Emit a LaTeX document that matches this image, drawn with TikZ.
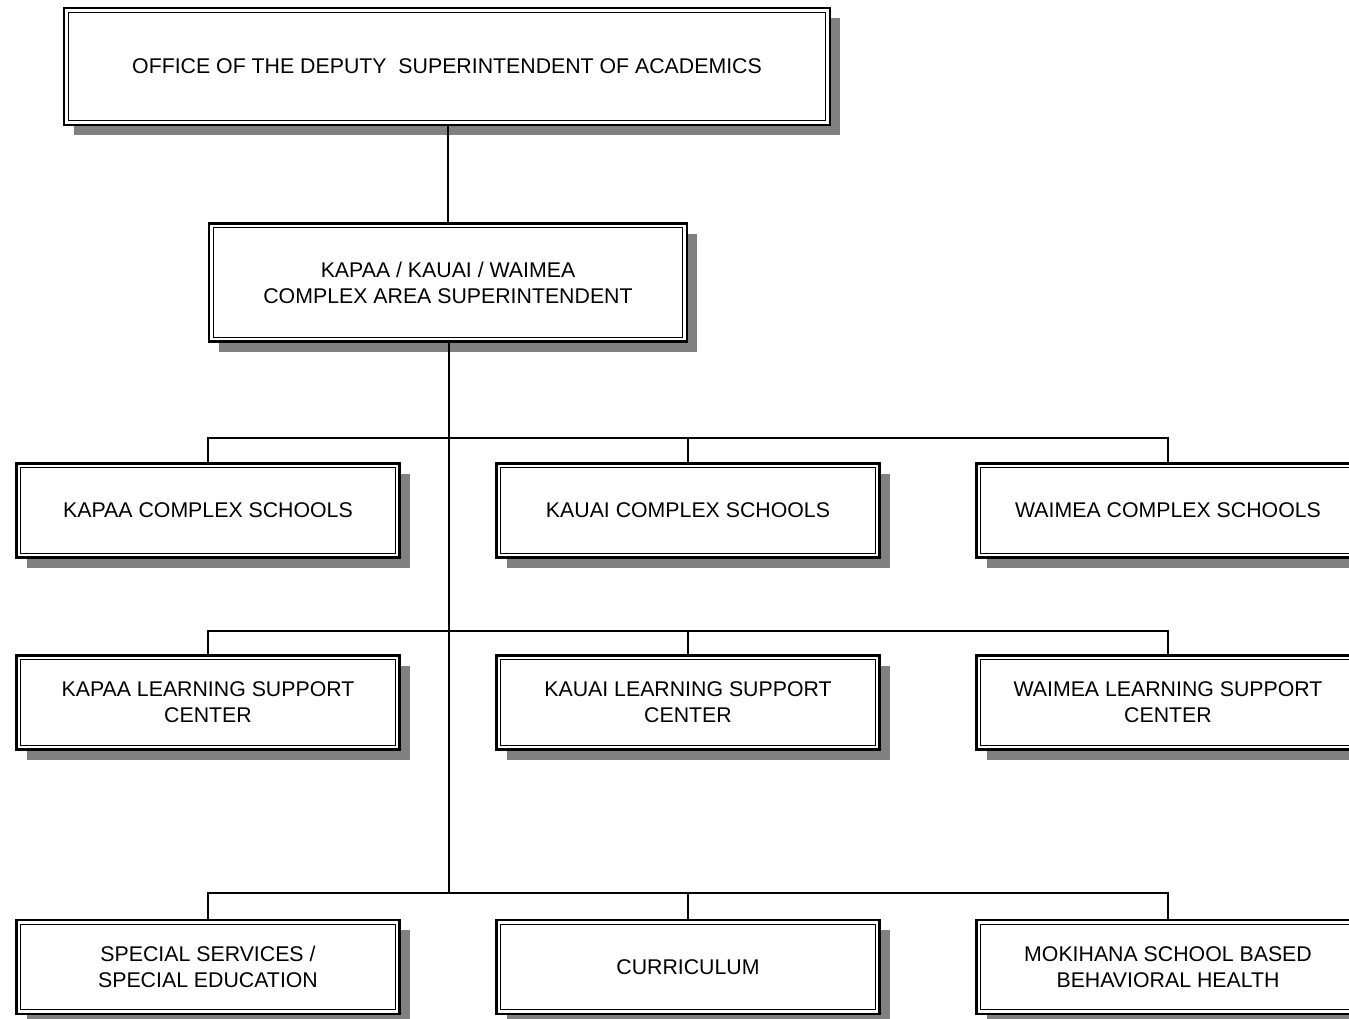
\documentclass[tikz,border=0pt]{standalone}
\usepackage{fontspec}
\setmainfont{Liberation Sans}
\usetikzlibrary{shadows}
\begin{document}
\begin{tikzpicture}[x=1pt,y=-1pt,
  orgbox/.style={draw, line width=2.7pt, fill=white, align=center,
    font=\fontsize{21.3}{26}\selectfont, inner sep=0pt,
    drop shadow={shadow xshift=10pt, shadow yshift=-10pt, fill=black!50, opacity=1},
    path picture={\draw[line width=1.3pt]
      ([shift={(4.3pt,4.3pt)}]path picture bounding box.south west) rectangle
      ([shift={(-4.3pt,-4.3pt)}]path picture bounding box.north east);}},
  rowbox/.style={orgbox, minimum width=383pt, minimum height=94pt},
  link/.style={line width=1.5pt}]
\clip (0,0) rectangle (1349,1019);
\fill[white] (0,0) rectangle (1349,1019);

\node[orgbox, minimum width=766pt, minimum height=117pt] (top) at (447,66.5)
  {OFFICE OF THE DEPUTY\ \ SUPERINTENDENT OF ACADEMICS};
\node[orgbox, minimum width=478pt, minimum height=118pt] (cas) at (448,282.5)
  {KAPAA / KAUAI / WAIMEA\\COMPLEX AREA SUPERINTENDENT};

\node[rowbox] (r1a) at (208,510.5) {KAPAA COMPLEX SCHOOLS};
\node[rowbox] (r1b) at (688,510.5) {KAUAI COMPLEX SCHOOLS};
\node[rowbox] (r1c) at (1168,510.5) {WAIMEA COMPLEX SCHOOLS};

\node[rowbox] (r2a) at (208,702.5) {KAPAA LEARNING SUPPORT\\CENTER};
\node[rowbox] (r2b) at (688,702.5) {KAUAI LEARNING SUPPORT\\CENTER};
\node[rowbox] (r2c) at (1168,702.5) {WAIMEA LEARNING SUPPORT\\CENTER};

\node[rowbox] (r3a) at (208,967) {SPECIAL SERVICES /\\SPECIAL EDUCATION};
\node[rowbox] (r3b) at (688,967) {CURRICULUM};
\node[rowbox] (r3c) at (1168,967) {MOKIHANA SCHOOL BASED\\BEHAVIORAL HEALTH};

\coordinate (j1) at (449,438);
\coordinate (j2) at (449,631);
\coordinate (j3) at (449,893);

\draw[link] (cas.north |- top.south) -- (cas.north);
\draw[link] (cas.south -| j1) -- (j3);
\draw[link] (r1a.north) |- (j1) -| (r1c.north);
\draw[link] (r1b.north) -- (r1b.north |- j1);
\draw[link] (r2a.north) |- (j2) -| (r2c.north);
\draw[link] (r2b.north) -- (r2b.north |- j2);
\draw[link] (r3a.north) |- (j3) -| (r3c.north);
\draw[link] (r3b.north) -- (r3b.north |- j3);
\end{tikzpicture}
\end{document}
